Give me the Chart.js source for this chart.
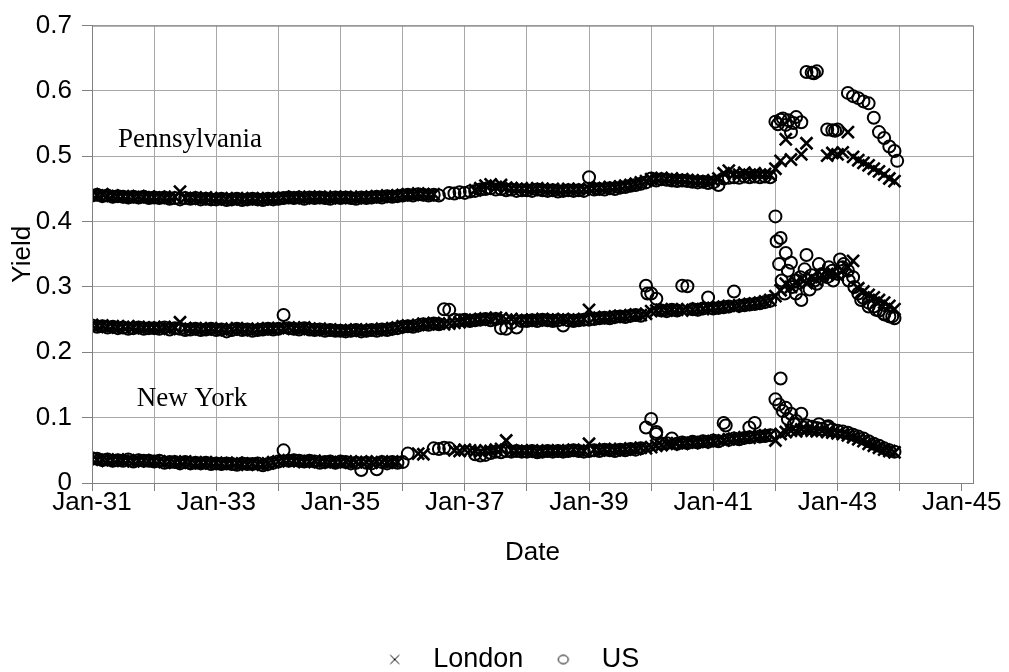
<!DOCTYPE html>
<html>
<head>
<meta charset="utf-8">
<title>Yield</title>
<script src="https://cdn.jsdelivr.net/npm/chart.js@4.4.0/dist/chart.umd.min.js"></script>
<style>
  html, body { margin: 0; padding: 0; background: #fff; }
  #wrap { width: 1009px; height: 672px; }
</style>
</head>
<body>
<div id="wrap"><canvas id="yieldChart"></canvas></div>
<script>
// monthly observations, first one is Jan-31
const startYear = 1931;
const tickYears = [1931, 1932, 1933, 1934, 1935, 1936, 1937, 1938, 1939, 1940, 1941, 1942, 1943, 1944, 1945];
const yTicks = [0, 0.05, 0.1, 0.15, 0.2, 0.25, 0.3, 0.35, 0.4, 0.45, 0.5, 0.55, 0.6, 0.65, 0.7];

// Pennsylvania (top band)
const londonPenn = [
  0.441,0.440,0.442,0.439,0.440,0.438,0.439,0.438,0.437,0.439,0.437,0.438,
  0.437,0.438,0.436,0.437,0.438,0.446,0.436,0.437,0.436,0.435,0.437,0.436,
  0.435,0.436,0.434,0.435,0.436,0.434,0.435,0.436,0.435,0.434,0.436,0.435,
  0.436,0.437,0.436,0.438,0.437,0.436,0.438,0.437,0.438,0.437,0.436,0.438,
  0.437,0.438,0.437,0.436,0.438,0.437,0.438,0.439,0.438,0.440,0.439,0.440,
  0.441,0.442,0.441,0.443,0.442,0.441,0.442,null,null,null,null,null,
  null,null,0.448,0.451,0.455,0.457,0.453,0.456,0.452,0.451,0.450,0.451,
  0.450,0.449,0.451,0.450,0.449,0.450,0.448,0.449,0.450,0.449,0.450,0.449,
  0.450,0.451,0.452,0.451,0.453,0.452,0.454,0.455,0.456,0.458,0.460,0.462,
  0.465,0.466,0.467,0.465,0.466,0.464,0.465,0.464,0.463,0.462,0.463,0.461,
  0.463,0.466,0.474,0.478,0.473,0.472,0.475,0.471,0.474,0.472,0.473,0.471,
  0.481,0.493,0.526,0.495,null,0.503,0.520,null,null,null,0.501,0.505,
  0.503,0.506,0.537,0.499,0.494,0.490,0.486,0.481,0.477,0.472,0.466,0.462
];
const usPenn = [
  0.440,0.441,0.439,0.440,0.438,0.439,0.438,0.437,0.438,0.437,0.438,0.436,
  0.437,0.436,0.437,0.435,0.436,0.434,0.436,0.435,0.436,0.434,0.435,0.434,
  0.434,0.435,0.433,0.434,0.435,0.433,0.434,0.435,0.434,0.433,0.435,0.434,
  0.435,0.436,0.437,0.436,0.437,0.435,0.437,0.436,0.437,0.436,0.435,0.437,
  0.436,0.437,0.436,0.435,0.437,0.436,0.437,0.438,0.437,0.439,0.438,0.439,
  0.440,0.441,0.440,0.442,0.441,0.440,0.441,0.440,null,0.444,0.443,0.445,
  0.444,0.446,0.447,0.449,0.450,0.451,0.449,0.450,0.448,0.449,0.447,0.448,
  0.448,0.447,0.449,0.448,0.447,0.448,0.446,0.447,0.448,0.447,0.448,0.447,
  0.468,0.449,0.450,0.449,0.451,0.450,0.452,0.453,0.455,0.456,0.458,0.460,
  0.466,0.463,0.465,0.464,0.463,0.462,0.463,0.462,0.461,0.460,0.461,0.459,
  0.460,0.456,0.466,0.467,0.468,0.467,0.469,0.468,0.469,0.468,0.469,0.468,
  0.553,0.556,0.548,0.537,0.560,0.552,0.629,0.628,0.630,null,0.541,0.540,
  0.541,null,0.597,0.592,0.589,0.584,0.581,0.559,0.537,0.528,0.515,0.508
];
const usPennExtraDates = [1942.04, 1942.12, 1942.21, 1942.29, 1942.62, 1942.96, 1943.96];
const usPennExtraValues = [0.549, 0.558, 0.555, 0.551, 0.627, 0.539, 0.493];

// middle band
const londonMid = [
  0.242,0.240,0.241,0.239,0.240,0.238,0.239,0.240,0.238,0.239,0.237,0.238,
  0.238,0.237,0.239,0.236,0.238,0.246,0.237,0.236,0.237,0.235,0.236,0.237,
  0.235,0.236,0.234,0.235,0.237,0.235,0.236,0.234,0.235,0.236,0.237,0.236,
  0.237,0.236,0.238,0.237,0.236,0.238,0.236,0.235,0.236,0.234,0.235,0.234,
  0.234,0.233,0.234,0.235,0.233,0.234,0.235,0.234,0.236,0.235,0.237,0.238,
  0.240,0.241,0.240,0.242,0.244,0.243,0.245,0.244,0.243,0.244,0.245,0.246,
  0.248,0.249,0.250,0.251,0.252,0.250,0.253,0.252,0.250,0.251,0.249,0.250,
  0.249,0.250,0.249,0.251,0.250,0.249,0.250,0.251,0.250,0.249,0.250,0.251,
  0.265,0.252,0.253,0.254,0.253,0.255,0.256,0.255,0.257,0.258,0.257,0.259,
  0.263,0.264,0.265,0.264,0.266,0.265,0.264,0.266,0.265,0.267,0.266,0.268,
  0.268,0.269,0.270,0.271,0.270,0.272,0.273,0.274,0.275,0.276,0.278,0.280,
  0.286,0.295,0.305,0.300,0.308,0.312,0.306,0.315,0.310,0.318,0.320,0.322,
  0.318,0.325,0.330,0.340,0.298,0.293,0.288,0.284,0.280,0.276,0.271,0.266
];
const usMid = [
  0.241,0.239,0.240,0.238,0.239,0.237,0.238,0.236,0.237,0.238,0.236,0.237,
  0.237,0.236,0.238,0.235,0.237,0.236,0.234,0.235,0.236,0.234,0.235,0.236,
  0.234,0.235,0.232,0.234,0.236,0.234,0.235,0.233,0.234,0.235,0.236,0.235,
  0.236,0.257,0.237,0.236,0.235,0.237,0.235,0.234,0.235,0.233,0.234,0.233,
  0.233,0.232,0.233,0.234,0.232,0.233,0.234,0.233,0.235,0.234,0.236,0.237,
  0.239,0.240,0.239,0.241,0.243,0.242,0.244,0.243,0.266,0.265,0.250,0.249,
  0.250,0.248,0.249,0.250,0.251,0.249,0.251,0.237,0.236,0.245,0.238,0.248,
  0.248,0.249,0.248,0.250,0.249,0.248,0.249,0.241,0.249,0.248,0.249,0.250,
  0.250,0.251,0.252,0.253,0.252,0.254,0.255,0.254,0.256,0.257,0.256,0.302,
  0.290,0.282,0.264,0.263,0.265,0.264,0.302,0.301,0.266,0.265,0.267,0.284,
  0.267,0.268,0.269,0.270,0.293,0.271,0.272,0.273,0.274,0.275,0.277,0.279,
  0.408,0.375,0.352,0.337,0.310,0.280,0.349,0.318,0.305,0.320,0.315,0.325,
  0.320,0.330,0.325,0.315,0.290,0.283,0.276,0.270,0.264,0.259,0.255,0.252
];
const usMidExtraDates = [1939.94, 1942.02, 1942.06, 1942.1, 1942.15, 1942.2, 1942.27, 1942.33, 1942.4,
  1942.47, 1942.55, 1942.63, 1942.7, 1942.78, 1942.86, 1942.93, 1943.04, 1943.1, 1943.18, 1943.27,
  1943.38, 1943.5, 1943.62, 1943.75, 1943.88];
const usMidExtraValues = [0.290, 0.370, 0.335, 0.310, 0.290, 0.325, 0.300, 0.290, 0.315,
  0.327, 0.296, 0.310, 0.335, 0.318, 0.330, 0.310, 0.342, 0.335, 0.310, 0.300,
  0.280, 0.270, 0.265, 0.258, 0.255];

// New York (bottom band)
const londonNY = [
  0.036,0.035,0.036,0.034,0.035,0.036,0.034,0.035,0.033,0.034,0.035,0.033,
  0.034,0.033,0.032,0.033,0.031,0.032,0.033,0.031,0.030,0.031,0.032,0.030,
  0.031,0.030,0.029,0.030,0.031,0.029,0.028,0.030,0.029,0.028,0.030,0.032,
  0.033,0.034,0.035,0.034,0.033,0.032,0.033,0.034,0.032,0.033,0.031,0.032,
  0.032,0.033,0.031,0.032,0.033,0.032,0.031,0.033,0.032,0.031,0.033,0.032,
  null,null,null,0.045,0.044,null,null,null,null,null,0.050,0.049,
  0.051,0.050,0.049,0.048,0.050,0.049,0.051,0.052,0.065,0.050,0.049,0.050,
  0.049,0.050,0.048,0.049,0.050,0.049,0.050,0.049,0.050,0.051,0.050,0.049,
  0.060,0.051,0.050,0.052,0.051,0.050,0.052,0.051,0.053,0.052,0.054,0.053,
  0.055,0.057,0.058,0.060,0.059,0.061,0.060,0.062,0.061,0.063,0.062,0.064,
  0.064,0.066,0.065,0.067,0.068,0.069,0.070,0.069,0.071,0.072,0.073,0.074,
  0.065,0.075,0.078,0.080,0.079,0.082,0.081,0.080,0.079,0.080,0.078,0.077,
  0.076,0.075,0.073,0.070,0.067,0.064,0.060,0.057,0.054,0.051,0.049,0.047
];
const usNY = [
  0.038,0.037,0.035,0.036,0.034,0.035,0.034,0.036,0.033,0.035,0.034,0.034,
  0.033,0.034,0.031,0.032,0.032,0.030,0.032,0.030,0.031,0.030,0.031,0.029,
  0.030,0.029,0.030,0.029,0.028,0.030,0.029,0.029,0.030,0.027,0.029,0.031,
  0.033,0.050,0.034,0.035,0.034,0.033,0.034,0.033,0.031,0.032,0.033,0.031,
  0.033,0.032,0.030,0.031,0.020,0.031,0.030,0.021,0.032,0.030,0.032,0.031,
  0.032,0.045,null,null,null,null,0.053,0.052,0.054,0.053,null,null,
  null,null,0.044,0.042,0.043,0.046,0.048,0.047,0.049,0.048,0.049,0.048,
  0.048,0.049,0.047,0.048,0.049,0.048,0.049,0.048,0.049,0.050,0.049,0.048,
  0.049,0.050,0.049,0.051,0.050,0.049,0.051,0.050,0.052,0.051,0.053,0.085,
  0.098,0.078,0.060,0.061,0.068,0.060,0.062,0.061,0.063,0.062,0.064,0.063,
  0.065,0.064,0.092,0.066,0.068,0.067,0.069,0.070,0.092,0.071,0.072,0.073,
  0.128,0.160,0.115,0.106,0.095,0.106,0.088,0.086,0.084,0.083,0.085,0.082,
  0.080,0.079,0.077,0.074,0.071,0.068,0.064,0.060,0.057,0.053,0.050,0.048
];
const usNYExtraDates = [1940.08, 1941.2, 1941.58, 1942.06, 1942.12, 1942.2, 1942.3, 1942.45, 1942.7, 1942.85];
const usNYExtraValues = [0.075, 0.088, 0.085, 0.120, 0.110, 0.098, 0.090, 0.085, 0.090, 0.087];

// ---------- helpers ----------
function monthly(values) {
  const pts = [];
  values.forEach((v, i) => {
    if (v !== null) pts.push({ x: startYear + i / 12, y: v });
  });
  return pts;
}
function pairs(dates, values) {
  return dates.map((d, i) => ({ x: d, y: values[i] }));
}

const londonPoints = [].concat(monthly(londonPenn), monthly(londonMid), monthly(londonNY));
const usPoints = [].concat(
  monthly(usPenn), pairs(usPennExtraDates, usPennExtraValues),
  monthly(usMid), pairs(usMidExtraDates, usMidExtraValues),
  monthly(usNY), pairs(usNYExtraDates, usNYExtraValues)
);

const sans = '"Liberation Sans", Arial, sans-serif';
const gridGrey = '#a8a8a8';
const axisGrey = '#808080';
const legendDrop = 11;   // legend sits a little lower than chart.js would put it
Chart.defaults.font.family = sans;
Chart.defaults.color = '#000';

// small legend symbols, thin like the original
function legendSymbol(kind) {
  const c = document.createElement('canvas');
  c.width = 14; c.height = 14;
  const g = c.getContext('2d');
  g.strokeStyle = '#000';
  g.lineWidth = 1;
  g.beginPath();
  if (kind === 'x') {
    g.moveTo(2.5, 2.5); g.lineTo(11.5, 11.5);
    g.moveTo(11.5, 2.5); g.lineTo(2.5, 11.5);
  } else {
    g.ellipse(7, 7, 5, 4.3, 0, 0, Math.PI * 2);
  }
  g.stroke();
  return c;
}
const legendMarks = [legendSymbol('x'), legendSymbol('o')];

// frame round the plot + the two band names
const plotFrame = {
  id: 'plotFrame',
  afterDatasetsDraw(chart) {
    const { ctx, chartArea: a, scales: { x, y } } = chart;
    ctx.save();
    ctx.strokeStyle = axisGrey;
    ctx.lineWidth = 1;
    ctx.strokeRect(a.left + 0.5, a.top + 0.5, a.right - a.left, a.bottom - a.top);
    ctx.fillStyle = '#000';
    ctx.font = '27px "Liberation Serif", "Times New Roman", serif';
    ctx.textBaseline = 'alphabetic';
    ctx.fillText('Pennsylvania', x.getPixelForValue(1931.42), y.getPixelForValue(0.5145));
    ctx.fillText('New York', x.getPixelForValue(1931.72), y.getPixelForValue(0.118));
    ctx.restore();
  }
};

new Chart(document.getElementById('yieldChart'), {
  type: 'scatter',
  data: {
    datasets: [{
      label: 'London',
      data: londonPoints,
      pointStyle: 'crossRot',
      pointRadius: 8.5,
      pointHoverRadius: 8.5,
      borderWidth: 2.6,
      borderColor: '#000',
      backgroundColor: 'rgba(0,0,0,0)'
    }, {
      label: 'US',
      data: usPoints,
      pointStyle: 'circle',
      pointRadius: 6,
      pointHoverRadius: 6,
      borderWidth: 2,
      borderColor: '#000',
      backgroundColor: 'rgba(0,0,0,0)'
    }]
  },
  options: {
    responsive: true,
    maintainAspectRatio: false,
    animation: false,
    events: [],
    layout: { padding: { top: 20, right: 0, bottom: -legendDrop, left: 0 } },
    scales: {
      x: {
        type: 'linear',
        min: 1931,
        max: 1945.18,
        afterBuildTicks(s) { s.ticks = tickYears.map(v => ({ value: v })); },
        afterFit(s) {
          s.height = s.chart.height + legendDrop - 483 - s.chart.legend.height;
          s.paddingRight = 36;
        },
        ticks: {
          autoSkip: false,
          maxRotation: 0,
          padding: -4,
          font: { size: 26 },
          callback: v => ((v - startYear) % 2 === 0 ? 'Jan-' + String(v).slice(2) : '')
        },
        grid: {
          color: c => (c.tick && c.tick.value === 1945 ? 'rgba(0,0,0,0)' : gridGrey),
          tickColor: axisGrey,
          tickLength: 8
        },
        border: { color: axisGrey },
        title: { display: true, text: 'Date', font: { size: 26 }, padding: { top: 0, bottom: 63 } }
      },
      y: {
        min: 0,
        max: 0.7,
        afterBuildTicks(s) { s.ticks = yTicks.map(v => ({ value: v })); },
        afterFit(s) { s.width = 92; },
        ticks: {
          padding: 10,
          font: { size: 26 },
          callback: v => (Math.round(v * 100) % 10 === 0 ? String(+v.toFixed(1)) : '')
        },
        grid: {
          color: c => (c.tick && Math.round(c.tick.value * 100) % 10 === 0 ? gridGrey : 'rgba(0,0,0,0)'),
          tickColor: axisGrey,
          tickLength: 10
        },
        border: { color: axisGrey },
        title: { display: true, text: 'Yield', font: { size: 26 }, padding: { top: 7, bottom: 0 } }
      }
    },
    plugins: {
      legend: {
        position: 'bottom',
        labels: {
          usePointStyle: true,
          pointStyleWidth: 50,
          boxHeight: 7,
          padding: 15,
          font: { size: 27 },
          color: '#000',
          generateLabels(chart) {
            const items = Chart.defaults.plugins.legend.labels.generateLabels(chart);
            items.forEach((it, i) => { it.pointStyle = legendMarks[i]; });
            return items;
          }
        }
      },
      tooltip: { enabled: false }
    }
  },
  plugins: [plotFrame]
});
</script>
</body>
</html>
